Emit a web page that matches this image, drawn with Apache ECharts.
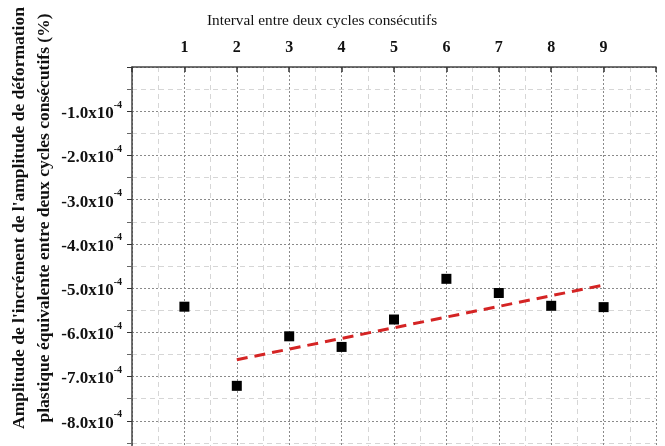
<!DOCTYPE html>
<html>
<head>
<meta charset="utf-8">
<script src="https://cdn.jsdelivr.net/npm/echarts@6/dist/echarts.min.js"></script>
<style>
  html, body { margin: 0; padding: 0; background: #fff; }
  #chart { width: 665px; height: 446px; }
</style>
</head>
<body>
<div id="chart"></div>
<script>
// Interval between two consecutive cycles
const intervals = [1, 2, 3, 4, 5, 6, 7, 8, 9];
// Amplitude of the increment (in %)
const increments = [-5.42e-4, -7.21e-4, -6.09e-4, -6.33e-4, -5.71e-4, -4.79e-4, -5.11e-4, -5.40e-4, -5.43e-4];
// Fitted trend line end points
const trendX = [2, 9];
const trendY = [-6.62e-4, -4.93e-4];

const xTitle = 'Interval entre deux cycles consécutifs';
const yTitle = "Amplitude de l'incrément de l'amplitude de déformation\nplastique équivalente entre deux cycles consécutifs (%)";

const serif = '"Liberation Serif", "DejaVu Serif", serif';
const chart = echarts.init(document.getElementById('chart'));

const gridLine = { show: true, lineStyle: { color: '#8a8a8a', type: [2, 2], width: 1 } };
const minorLine = { show: true, lineStyle: { color: '#d6d6d6', type: [5, 4], width: 1 } };

const option = {
    animation: false,
    grid: { left: 132, top: 67, width: 524, height: 398, outerBoundsMode: 'none' },
    xAxis: {
        type: 'value',
        position: 'top',
        min: 0,
        max: 10,
        interval: 1,
        name: xTitle,
        nameLocation: 'middle',
        nameGap: 39,
        nameTextStyle: { fontFamily: serif, fontSize: 15.3, color: '#111', padding: [0, 144, 0, 0] },
        axisLine: { show: true, onZero: false, lineStyle: { color: '#444', width: 1.5 } },
        axisTick: { show: true, inside: true, length: 5, lineStyle: { color: '#333', width: 1.5 } },
        minorTick: { show: false, splitNumber: 2 },
        axisLabel: {
            margin: 11,
            fontFamily: serif,
            fontSize: 16,
            fontWeight: 'bold',
            color: '#111',
            formatter: v => (v >= 1 && v <= 9 ? String(v) : '')
        },
        splitLine: gridLine,
        minorSplitLine: minorLine
    },
    yAxis: {
        type: 'value',
        min: -9e-4,
        max: 0,
        interval: 1e-4,
        name: yTitle,
        nameLocation: 'middle',
        nameGap: 75,
        nameMoveOverlap: false,
        nameRotate: 90,
        nameTextStyle: {
            fontFamily: serif, fontSize: 17.5, fontWeight: 'bold', color: '#111',
            lineHeight: 25, padding: [0, 0, 0, 96]
        },
        axisLine: { show: true, onZero: false, lineStyle: { color: '#444', width: 1.5 } },
        axisTick: { show: true, length: 5, lineStyle: { color: '#333' } },
        minorTick: { show: true, splitNumber: 2, length: 5, lineStyle: { color: '#666' } },
        axisLabel: {
            margin: 10,
            color: '#111',
            formatter: v => {
                const n = Math.round(v / 1e-5) / 10;
                if (n === 0 || n <= -9) return '';
                return '{a|' + n.toFixed(1) + 'x10}{s|-4}';
            },
            rich: {
                a: { fontFamily: serif, fontSize: 17, fontWeight: 'bold', color: '#111', lineHeight: 22, verticalAlign: 'bottom' },
                s: { fontFamily: serif, fontSize: 10, fontWeight: 'bold', color: '#111', lineHeight: 10, verticalAlign: 'top' }
            }
        },
        splitLine: gridLine,
        minorSplitLine: minorLine
    },
    series: [
        {
            name: 'trend',
            type: 'line',
            data: trendX.map((x, i) => [x, trendY[i]]),
            showSymbol: false,
            lineStyle: { color: '#d42424', width: 3, type: [11, 7] },
            z: 2
        },
        {
            name: 'points',
            type: 'scatter',
            data: intervals.map((x, i) => [x, increments[i]]),
            symbol: 'rect',
            symbolSize: 10,
            itemStyle: { color: '#000', opacity: 1 },
            z: 3
        }
    ]
};

chart.setOption(option);
</script>
</body>
</html>
